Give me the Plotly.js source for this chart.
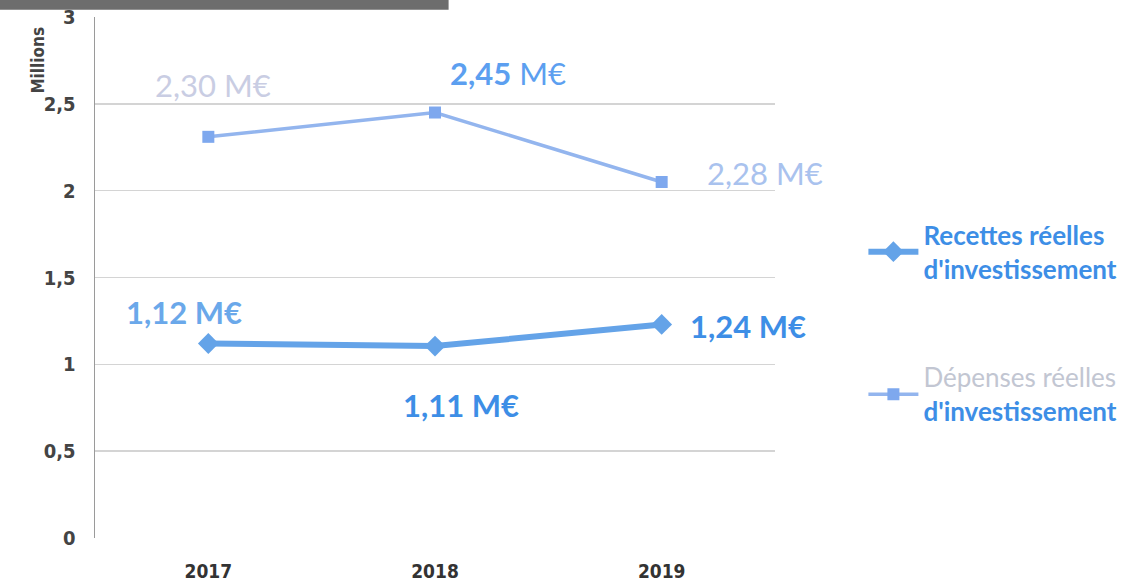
<!DOCTYPE html>
<html>
<head>
<meta charset="utf-8">
<script src="https://cdn.plot.ly/plotly-3.0.1.min.js"></script>
<style>html,body{margin:0;padding:0;background:#fff;}#chart{width:1126px;height:582px;}</style>
</head>
<body>
<div id="chart"></div>
<script>
// ---- data ----
var years = ['2017', '2018', '2019'];
var recettes = [1.12, 1.105, 1.23];
var depenses = [2.31, 2.45, 2.05];
var recettesLabels = ['1,12 M€', '1,11 M€', '1,24 M€'];
var depensesLabels = ['2,30 M€', '<b>2,45</b> M€', '2,28 M€'];
var yTicks = [0, 0.5, 1, 1.5, 2, 2.5, 3];
var yTickText = ['0', '0,5', '1', '1,5', '2', '2,5', '3'];

// ---- label styling (offsets in px relative to each point) ----
var recOffsets = [[-24, 31], [26, -59], [86, -2]];
var recColors = ['#6aa8ea', '#3d8ee6', '#3d8ee6'];
var depOffsets = [[5, 52], [73, 40], [103, 9]];
var depColors = ['#c9cde3', '#5c9ff0', '#a9c2ee'];

var FONT = 'Lato, "Open Sans", sans-serif';
var TICKFONT = '"DejaVu Sans Condensed", "DejaVu Sans", sans-serif';

var traces = [
  {
    x: years, y: recettes, type: 'scatter', mode: 'lines+markers',
    name: '<b>Recettes réelles<br>d\'investissement</b>',
    legendgroup: 'a',
    line: {color: '#64a3e8', width: 6},
    marker: {symbol: 'diamond', size: 16, color: '#64a3e8'},
    hoverinfo: 'skip'
  },
  {
    x: years, y: depenses, type: 'scatter', mode: 'lines+markers',
    name: '<span style="color:#c2c6d2">Dépenses réelles</span><br><b>d\'investissement</b>',
    legendgroup: 'b',
    line: {color: '#93b5ee', width: 3.5},
    marker: {symbol: 'square', size: 12, color: '#7ea8ee'},
    hoverinfo: 'skip'
  }
];

var annotations = [];
years.forEach(function (yr, i) {
  // category axis: annotation x uses the category's serial index
  annotations.push({
    x: i, y: recettes[i], xref: 'x', yref: 'y', showarrow: false,
    text: '<b>' + recettesLabels[i] + '</b>',
    xshift: recOffsets[i][0], yshift: recOffsets[i][1],
    font: {family: FONT, size: 31, color: recColors[i]}
  });
  annotations.push({
    x: i, y: depenses[i], xref: 'x', yref: 'y', showarrow: false,
    text: depensesLabels[i],
    xshift: depOffsets[i][0], yshift: depOffsets[i][1],
    font: {family: FONT, size: 31, color: depColors[i]}
  });
});
annotations.push({
  xref: 'paper', yref: 'paper', x: -0.084, y: 0.918, showarrow: false,
  xanchor: 'center', yanchor: 'middle',
  textangle: -90, text: '<b>Millions</b>',
  font: {family: TICKFONT, size: 17, color: '#444444'}
});

var layout = {
  width: 1126, height: 582,
  margin: {l: 95, r: 351, t: 17, b: 44, autoexpand: false},
  paper_bgcolor: '#ffffff', plot_bgcolor: '#ffffff',
  showlegend: true,
  legend: {
    x: 1.13, y: 0.627, xanchor: 'left', yanchor: 'top',
    traceorder: 'grouped', tracegroupgap: 72, itemwidth: 50,
    font: {family: FONT, size: 26, color: '#3d8ee6'},
    bgcolor: 'rgba(0,0,0,0)'
  },
  xaxis: {
    type: 'category', range: [-0.5, 2.5],
    showgrid: false, zeroline: false, showline: false,
    ticks: '', ticklabelstandoff: 20,
    tickfont: {family: TICKFONT, size: 19, color: '#333333', weight: 'bold'}
  },
  yaxis: {
    range: [0, 3], tickvals: yTicks, ticktext: yTickText,
    showgrid: true, gridcolor: '#d4d4d4', gridwidth: 1.5,
    zeroline: false, showline: true, linecolor: '#9a9a9a', linewidth: 1.5,
    ticks: '', ticklabelstandoff: 14,
    tickfont: {family: TICKFONT, size: 20, color: '#444444', weight: 'bold'}
  },
  annotations: annotations,
  shapes: [
    {type: 'rect', xref: 'paper', yref: 'paper', x0: -0.14, x1: 0.52, y0: 1.014, y1: 1.04,
     fillcolor: '#6d6d6d', line: {width: 0}, layer: 'above'}
  ]
};

Plotly.newPlot('chart', traces, layout, {displayModeBar: false, staticPlot: true});
</script>
</body>
</html>
